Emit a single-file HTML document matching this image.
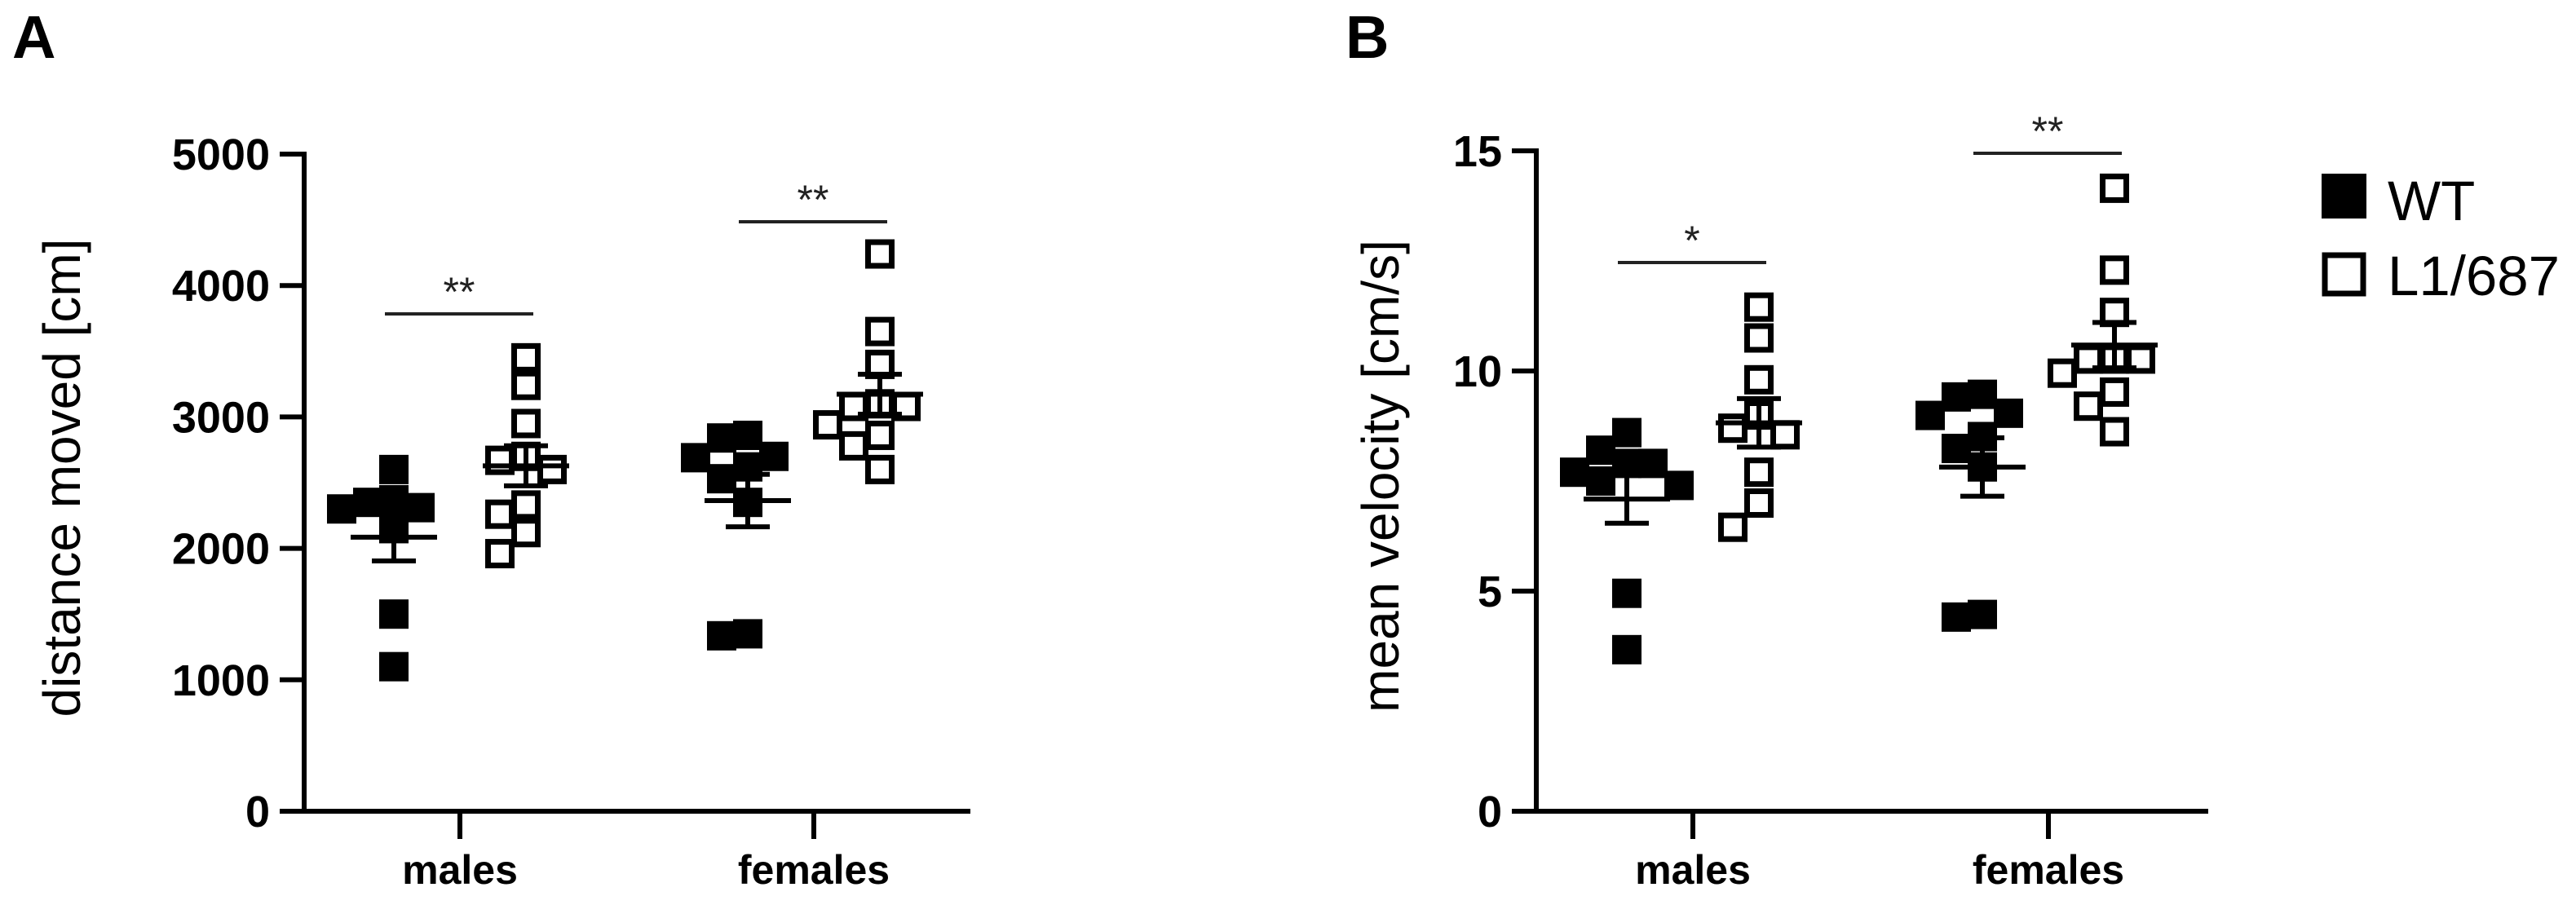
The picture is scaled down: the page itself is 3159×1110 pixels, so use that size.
<!DOCTYPE html>
<html><head><meta charset="utf-8"><style>
html,body{margin:0;padding:0;background:#fff;}
svg{display:block;}
text{font-family:"Liberation Sans",Arial,sans-serif;}
</style></head><body>
<svg id="fig" width="3159" height="1110" viewBox="0 0 3159 1110">
<text x="15" y="71" font-size="74" font-weight="bold">A</text>
<text x="1650" y="71" font-size="74" font-weight="bold">B</text>
<g>
<rect x="2847" y="213" width="55" height="55" fill="#000"/>
<text x="2928" y="270" font-size="69">WT</text>
<rect x="2851" y="313" width="47" height="47" fill="none" stroke="#000" stroke-width="7"/>
<text x="2928" y="362" font-size="69">L1/687</text>
</g>
</svg>
<script>
const categories = ["males","females"];
const seriesNames = ["WT","L1/687"];
// Panel A: distance moved [cm]
const distWTMales = [2600,2370,2350,2310,2300,2150,1500,1100];
const distL1Males = [3450,3240,2950,2700,2670,2600,2330,2260,2120,1960];
const distWTFemales = [2860,2840,2700,2690,2620,2530,2350,1350,1335];
const distL1Females = [4240,3650,3400,3100,3080,3080,2940,2860,2780,2600];
const distTicks = [0,1000,2000,3000,4000,5000];
// Panel B: mean velocity [cm/s]
const velWTMales = [8.6,8.2,7.9,7.9,7.7,7.5,7.4,4.95,3.67];
const velL1Males = [11.45,10.75,9.8,9.0,8.7,8.55,7.7,7.0,6.45];
const velWTFemales = [9.47,9.41,9.04,8.99,8.51,8.24,7.82,4.47,4.41];
const velL1Females = [14.15,12.29,11.33,10.27,10.27,10.27,9.95,9.52,9.2,8.62];
const velTicks = [0,5,10,15];
const sigA = ["**","**"];
const sigB = ["*","**"];

const NS = "http://www.w3.org/2000/svg";
const svg = document.getElementById('fig');
function mk(tag, attrs, parent){
  const e = document.createElementNS(NS, tag);
  for (const k in attrs) e.setAttribute(k, attrs[k]);
  (parent||svg).appendChild(e);
  return e;
}
function meanSem(a){
  const m = a.reduce((s,v)=>s+v,0)/a.length;
  const sd = Math.sqrt(a.reduce((s,v)=>s+(v-m)*(v-m),0)/(a.length-1));
  return [m, sd/Math.sqrt(a.length)];
}
function panel(cfg){
  const g = mk('g', {});
  
  
  const y = v => cfg.y0 - (v - 0) / cfg.ymax * (cfg.y0 - cfg.ytop);
  const xCat = i => cfg.catX[i];
  const ya = mk('line', {x1:cfg.ax, y1:cfg.ytop-3, x2:cfg.ax, y2:cfg.y0+3, stroke:'#000','stroke-width':6}, g);
  
  
  const xa = mk('line', {x1:cfg.ax-30, y1:cfg.y0, x2:cfg.xend, y2:cfg.y0, stroke:'#000','stroke-width':6}, g);
  
  
  cfg.ticks.forEach(t=>{
    const tl = mk('line', {x1:cfg.ax-30, y1:y(t), x2:cfg.ax, y2:y(t), stroke:'#000','stroke-width':6}, g);
    
    
    const tx = mk('text', {x:cfg.ax-42, y:y(t)+19, 'font-size':54, 'font-weight':'bold', 'text-anchor':'end'}, g);
    tx.textContent = t;
    
    
  });
  categories.forEach((c,i)=>{
    const tl = mk('line', {x1:xCat(i), y1:cfg.y0, x2:xCat(i), y2:cfg.y0+34, stroke:'#000','stroke-width':6}, g);
    
    
    const tx = mk('text', {x:xCat(i), y:1084, 'font-size':50, 'font-weight':'bold', 'text-anchor':'middle'}, g);
    tx.textContent = c;
    
    
  });
  const tt = mk('text', {x:0, y:0, 'font-size':64, 'text-anchor':'middle',
    transform:'translate(' + cfg.titleX + ',' + ((cfg.ytop+cfg.y0)/2 - 6) + ') rotate(-90)'}, g);
  tt.textContent = cfg.title;
  
  
  cfg.groups.forEach((grp, gi)=>{
    const ci = Math.floor(gi/2), si = gi%2;
    const cx = xCat(ci) + (si===0 ? -81 : 81);
    const placed = [];
    const sz = 36;
    grp.forEach((v)=>{
      const py = y(v);
      const offs = [0,-1,1,-2,2,-3,3];
      let px = cx;
      for (const o of offs){
        const tx = cx + o*32;
        if (!placed.some(p=>Math.abs(p[0]-tx)<sz-4 && Math.abs(p[1]-py)<sz-6)){ px = tx; break; }
      }
      placed.push([px,py]);
      let r;
      if (si===0) r = mk('rect', {x:px-sz/2, y:py-sz/2, width:sz, height:sz, fill:'#000'}, g);
      else r = mk('rect', {x:px-sz/2+3.5, y:py-sz/2+3.5, width:sz-7, height:sz-7, fill:'none', stroke:'#000','stroke-width':7}, g);
      
      
    });
    const ms = meanSem(grp);
    const mg = mk('g', {stroke:'#000','stroke-width':6}, g);
    
    
    mk('line', {x1:cx-53, x2:cx+53, y1:y(ms[0]), y2:y(ms[0])}, mg);
    mk('line', {x1:cx, x2:cx, y1:y(ms[0]-ms[1]), y2:y(ms[0]+ms[1])}, mg);
    mk('line', {x1:cx-27, x2:cx+27, y1:y(ms[0]-ms[1]), y2:y(ms[0]-ms[1])}, mg);
    mk('line', {x1:cx-27, x2:cx+27, y1:y(ms[0]+ms[1]), y2:y(ms[0]+ms[1])}, mg);
  });
  cfg.sig.forEach((s,i)=>{
    const sb = mk('line', {x1:xCat(i)-92, x2:xCat(i)+90, y1:cfg.sigY[i], y2:cfg.sigY[i], stroke:'#222','stroke-width':4}, g);
    
    
    const st = mk('text', {x:xCat(i)-1, y:cfg.sigY[i]-10, 'font-size':50, fill:'#222', 'text-anchor':'middle'}, g);
    st.textContent = s;
    
    
  });
}
panel({name:'panel-a-distance', ax:373, ytop:189, y0:995, ymax:5000, xend:1190, catX:[564,998],
  ticks:distTicks, title:'distance moved [cm]', titleX:98,
  groups:[distWTMales, distL1Males, distWTFemales, distL1Females], sig:sigA, sigY:[385,272]});
panel({name:'panel-b-velocity', ax:1884, ytop:185, y0:995, ymax:15, xend:2708, catX:[2076,2512],
  ticks:velTicks, title:'mean velocity [cm/s]', titleX:1715,
  groups:[velWTMales, velL1Males, velWTFemales, velL1Females], sig:sigB, sigY:[322,188]});
</script>
</body></html>
